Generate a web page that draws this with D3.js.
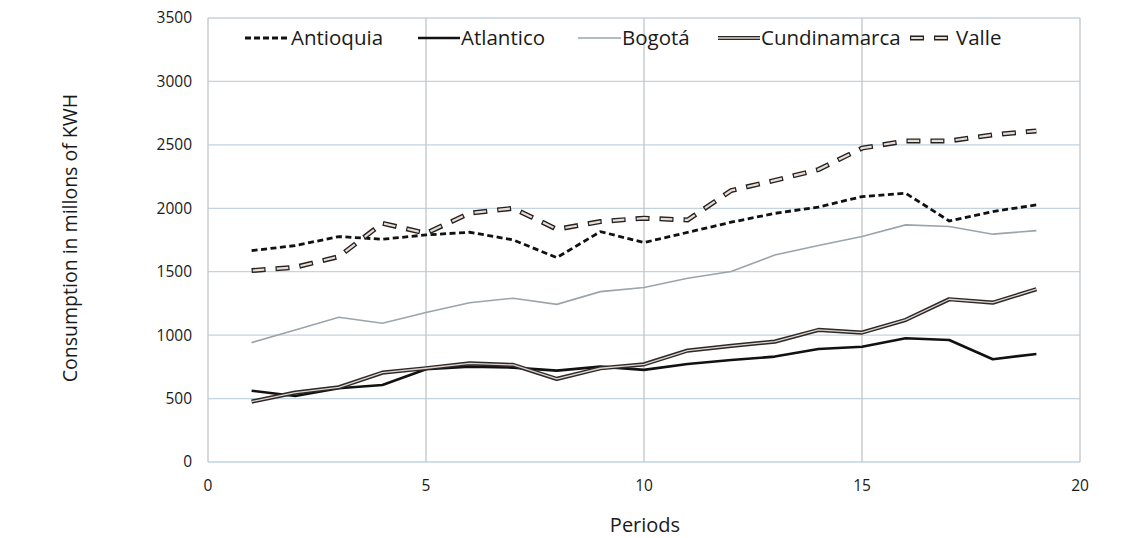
<!DOCTYPE html>
<html>
<head>
<meta charset="utf-8">
<script src="https://cdn.jsdelivr.net/npm/d3@7"></script>
<style>
  html, body { margin: 0; padding: 0; background: #fff; }
  svg { display: block; }
  text { font-family: "Open Sans", Lato, sans-serif; fill: #1a1a1a; }
</style>
</head>
<body>
<svg id="chart" width="1135" height="538"></svg>
<script>
const periods = d3.range(1, 20);
const antioquia = [1666, 1706, 1777, 1756, 1790, 1811, 1751, 1611, 1816, 1730, 1810, 1890, 1960, 2010, 2092, 2119, 1900, 1974, 2027];
const atlantico = [562, 520, 581, 607, 731, 752, 744, 720, 752, 726, 773, 804, 831, 891, 909, 975, 962, 810, 852];
const bogota = [941, 1041, 1141, 1094, 1178, 1256, 1291, 1243, 1343, 1375, 1448, 1501, 1632, 1707, 1777, 1869, 1856, 1796, 1824];
const cundinamarca = [476, 547, 589, 704, 739, 778, 765, 655, 739, 770, 878, 915, 949, 1041, 1020, 1120, 1283, 1256, 1362];
const valle = [1509, 1535, 1619, 1882, 1803, 1961, 2000, 1835, 1895, 1922, 1908, 2140, 2220, 2305, 2474, 2531, 2531, 2579, 2610];
const seriesNames = ["Antioquia", "Atlantico", "Bogotá", "Cundinamarca", "Valle"];
const xTicks = [0, 5, 10, 15, 20];
const yTicks = [0, 500, 1000, 1500, 2000, 2500, 3000, 3500];

const svg = d3.select("#chart");
const x = d3.scaleLinear().domain([0, 20]).range([208, 1080]);
const y = d3.scaleLinear().domain([0, 3500]).range([462, 18]);

// gridlines
const grid = svg.append("g");
grid.selectAll("line.h").data(yTicks).join("line")
  .attr("x1", x(0)).attr("x2", x(20))
  .attr("y1", d => y(d)).attr("y2", d => y(d))
  .attr("stroke", "#c3d3e0").attr("stroke-width", 1.3);
grid.selectAll("line.v").data(xTicks).join("line")
  .attr("y1", y(0)).attr("y2", y(3500))
  .attr("x1", d => x(d)).attr("x2", d => x(d))
  .attr("stroke", "#c2c6ca").attr("stroke-width", 1.3);

// tick labels
svg.append("g").selectAll("text").data(yTicks).join("text")
  .attr("x", 192).attr("y", d => y(d)).attr("dy", "0.35em")
  .attr("text-anchor", "end").attr("font-size", 15.5).text(d => d);
svg.append("g").selectAll("text").data(xTicks).join("text")
  .attr("x", d => x(d)).attr("y", 491)
  .attr("text-anchor", "middle").attr("font-size", 15.5).text(d => d);

// axis titles
svg.append("text").attr("transform", "translate(77,238) rotate(-90)")
  .attr("text-anchor", "middle").attr("font-size", 19.5)
  .text("Consumption in millons of KWH");
svg.append("text").attr("x", 645).attr("y", 532)
  .attr("text-anchor", "middle").attr("font-size", 20).text("Periods");

const line = d3.line().x((d, i) => x(periods[i])).y(d => y(d));
const g = svg.append("g").attr("fill", "none");

// Bogotá
g.append("path").attr("d", line(bogota)).attr("stroke", "#9aa4aa").attr("stroke-width", 1.6);
// Atlantico
g.append("path").attr("d", line(atlantico)).attr("stroke", "#111").attr("stroke-width", 2.6).attr("stroke-linejoin", "round");
// Cundinamarca (double line)
g.append("path").attr("d", line(cundinamarca)).attr("stroke", "#2a2a2a").attr("stroke-width", 4.2).attr("stroke-linejoin", "round");
g.append("path").attr("d", line(cundinamarca)).attr("stroke", "#e2d2ca").attr("stroke-width", 1.3).attr("stroke-linejoin", "round");
// Antioquia dashed
g.append("path").attr("d", line(antioquia)).attr("stroke", "#111").attr("stroke-width", 2.8).attr("stroke-dasharray", "6,3.5");
// Valle dashed double
g.append("path").attr("d", line(valle)).attr("stroke", "#222").attr("stroke-width", 5).attr("stroke-dasharray", "14,10");
g.append("path").attr("d", line(valle)).attr("stroke", "#eadbd3").attr("stroke-width", 2.2)
  .attr("stroke-dasharray", "11.6,12.4").attr("stroke-dashoffset", -1.2);

// legend
const legendItems = [
  { name: seriesNames[0], x0: 245, x1: 290 },
  { name: seriesNames[1], x0: 418, x1: 460 },
  { name: seriesNames[2], x0: 578, x1: 621 },
  { name: seriesNames[3], x0: 718, x1: 760 },
  { name: seriesNames[4], x0: 910, x1: 955 }
];
const ly = 38;
const lg = svg.append("g");
legendItems.forEach((it, i) => {
  const seg = [[it.x0, ly], [it.x1, ly]];
  const l2 = d3.line();
  if (i === 0) lg.append("path").attr("d", l2(seg)).attr("stroke", "#111").attr("stroke-width", 2.8).attr("stroke-dasharray", "6,3");
  if (i === 1) lg.append("path").attr("d", l2(seg)).attr("stroke", "#111").attr("stroke-width", 2.6);
  if (i === 2) lg.append("path").attr("d", l2(seg)).attr("stroke", "#9aa4aa").attr("stroke-width", 1.6);
  if (i === 3) {
    lg.append("path").attr("d", l2(seg)).attr("stroke", "#2a2a2a").attr("stroke-width", 4.2);
    lg.append("path").attr("d", l2(seg)).attr("stroke", "#e2d2ca").attr("stroke-width", 1.3);
  }
  if (i === 4) {
    lg.append("path").attr("d", l2(seg)).attr("stroke", "#222").attr("stroke-width", 5).attr("stroke-dasharray", "14,10");
    lg.append("path").attr("d", l2(seg)).attr("stroke", "#eadbd3").attr("stroke-width", 2.2).attr("stroke-dasharray", "11.6,12.4").attr("stroke-dashoffset", -1.2);
  }
  lg.append("text").attr("x", it.x1 + 1).attr("y", ly).attr("dy", "0.35em")
    .attr("font-size", 20.5).text(it.name);
});
</script>
</body>
</html>
